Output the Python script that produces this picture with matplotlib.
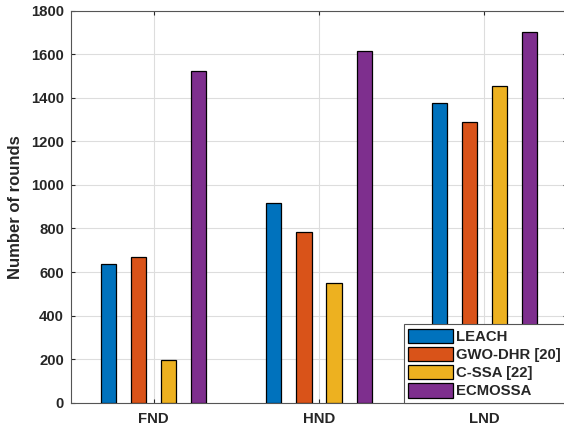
import numpy as np
import matplotlib
matplotlib.use('Agg')
import matplotlib.pyplot as plt

categories = ['FND', 'HND', 'LND']
methods = ['LEACH', 'GWO-DHR [20]', 'C-SSA [22]', 'ECMOSSA']
leach = [637, 915, 1378]
gwo_dhr = [668, 782, 1289]
c_ssa = [195, 549, 1456]
ecmossa = [1525, 1615, 1704]
yticks = [0, 200, 400, 600, 800, 1000, 1200, 1400, 1600, 1800]

colors = ['#0072BD', '#D95319', '#EDB120', '#7E2F8E']
txt = '#262626'

plt.rcParams['font.family'] = ['Liberation Sans', 'DejaVu Sans']
plt.rcParams['font.weight'] = 'bold'
plt.rcParams['font.size'] = 10.7

fig = plt.figure(figsize=(5.64, 4.30), dpi=100)
ax = fig.add_axes([0.1259, 0.0635, 0.8794, 0.9115])

x = np.arange(1, len(categories) + 1)
offsets = [-0.273, -0.091, 0.091, 0.273]
series = [leach, gwo_dhr, c_ssa, ecmossa]
for vals, off, col, name in zip(series, offsets, colors, methods):
    ax.bar(x + off, vals, width=0.092, color=col, edgecolor='black',
           linewidth=0.9, label=name, zorder=3)

ax.set_xlim(0.5, 3.5)
ax.set_ylim(0, 1800)
ax.set_xticks(x)
ax.set_xticklabels(categories)
ax.set_yticks(yticks)
ax.set_ylabel('Number of rounds', fontweight='bold', color=txt,
              fontsize=12, labelpad=6)

ax.grid(True, color='#dddddd', linewidth=0.8, zorder=0)
ax.set_axisbelow(True)
ax.tick_params(direction='in', length=3, colors=txt, labelcolor=txt,
               top=True, right=True, width=0.8)
ax.tick_params(axis='x', pad=7)
ax.tick_params(axis='y', pad=5)
for s in ax.spines.values():
    s.set_color('#555555')
    s.set_linewidth(0.8)

leg = ax.legend(loc='lower right', bbox_to_anchor=(0.997, 0.0), borderaxespad=0,
                fancybox=False, framealpha=1, edgecolor='#555555',
                handlelength=3.0, handleheight=1.15, labelspacing=0.18,
                handletextpad=0.25, borderpad=0.3, fontsize=10.7)
leg.get_frame().set_linewidth(0.8)
for t in leg.get_texts():
    t.set_color(txt)
leg.set_zorder(5)

fig.savefig('out.png', dpi=100)
